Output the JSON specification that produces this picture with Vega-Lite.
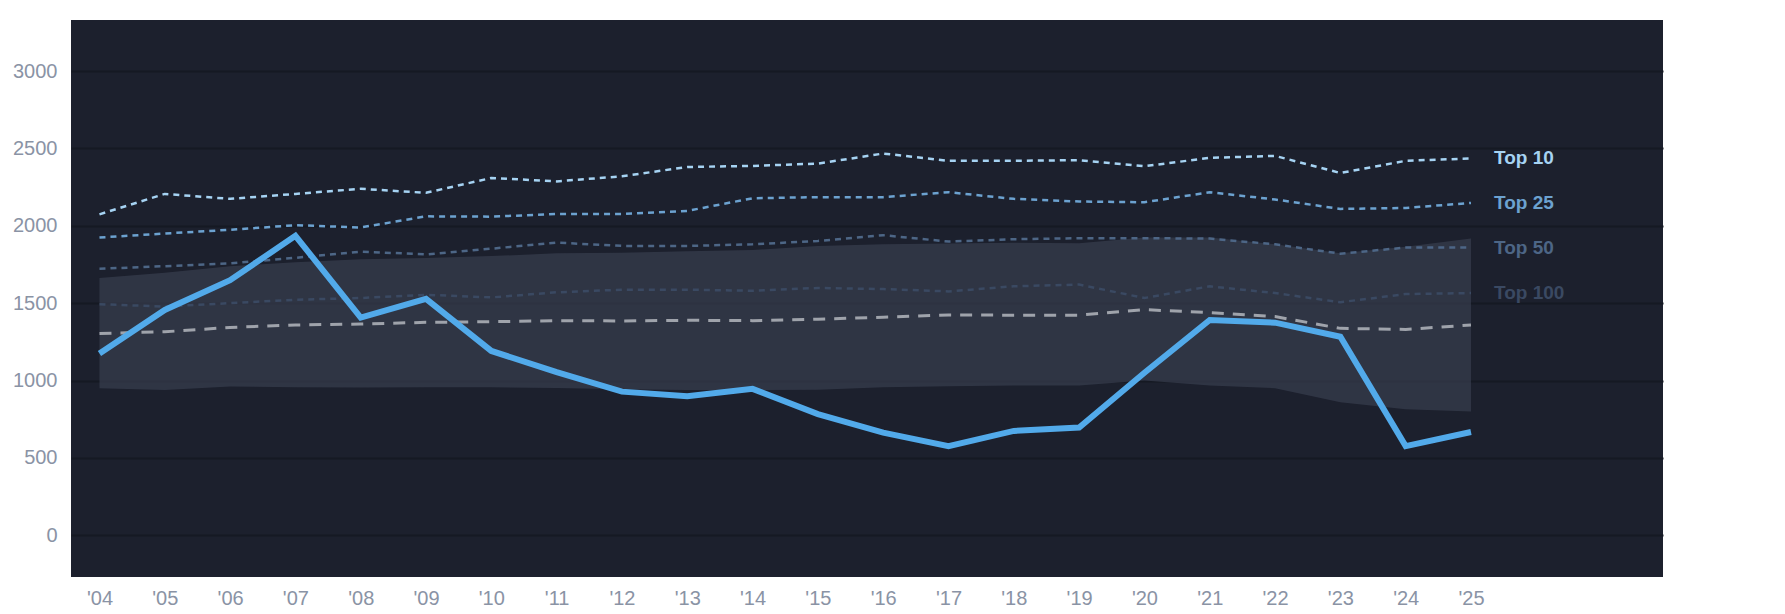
{
  "$schema": "https://vega.github.io/schema/vega-lite/v6.json",
  "autosize": {"type": "none"},
  "padding": {"left": 71, "top": 20, "right": 122, "bottom": 37},
  "width": 1592,
  "height": 557,
  "background": "#ffffff",
  "view": {"fill": "#1c202d", "stroke": null},
  "config": {
    "font": "Liberation Sans",
    "axis": {"labelFont": "Liberation Sans", "labelFontSize": 20, "labelColor": "#8a93a5"}
  },
  "datasets": {
    "tiers": [
      {"year": 2004, "tier": "Top 10", "value": 2074}, {"year": 2005, "tier": "Top 10", "value": 2206},
      {"year": 2006, "tier": "Top 10", "value": 2174}, {"year": 2007, "tier": "Top 10", "value": 2206},
      {"year": 2008, "tier": "Top 10", "value": 2239}, {"year": 2009, "tier": "Top 10", "value": 2213},
      {"year": 2010, "tier": "Top 10", "value": 2309}, {"year": 2011, "tier": "Top 10", "value": 2287},
      {"year": 2012, "tier": "Top 10", "value": 2320}, {"year": 2013, "tier": "Top 10", "value": 2380},
      {"year": 2014, "tier": "Top 10", "value": 2387}, {"year": 2015, "tier": "Top 10", "value": 2402},
      {"year": 2016, "tier": "Top 10", "value": 2467}, {"year": 2017, "tier": "Top 10", "value": 2420},
      {"year": 2018, "tier": "Top 10", "value": 2420}, {"year": 2019, "tier": "Top 10", "value": 2424},
      {"year": 2020, "tier": "Top 10", "value": 2385}, {"year": 2021, "tier": "Top 10", "value": 2439},
      {"year": 2022, "tier": "Top 10", "value": 2452}, {"year": 2023, "tier": "Top 10", "value": 2341},
      {"year": 2024, "tier": "Top 10", "value": 2420}, {"year": 2025, "tier": "Top 10", "value": 2435},
      {"year": 2004, "tier": "Top 25", "value": 1924}, {"year": 2005, "tier": "Top 25", "value": 1950},
      {"year": 2006, "tier": "Top 25", "value": 1974}, {"year": 2007, "tier": "Top 25", "value": 2004},
      {"year": 2008, "tier": "Top 25", "value": 1989}, {"year": 2009, "tier": "Top 25", "value": 2061},
      {"year": 2010, "tier": "Top 25", "value": 2059}, {"year": 2011, "tier": "Top 25", "value": 2076},
      {"year": 2012, "tier": "Top 25", "value": 2076}, {"year": 2013, "tier": "Top 25", "value": 2096},
      {"year": 2014, "tier": "Top 25", "value": 2178}, {"year": 2015, "tier": "Top 25", "value": 2185},
      {"year": 2016, "tier": "Top 25", "value": 2185}, {"year": 2017, "tier": "Top 25", "value": 2217},
      {"year": 2018, "tier": "Top 25", "value": 2174}, {"year": 2019, "tier": "Top 25", "value": 2157},
      {"year": 2020, "tier": "Top 25", "value": 2152}, {"year": 2021, "tier": "Top 25", "value": 2217},
      {"year": 2022, "tier": "Top 25", "value": 2170}, {"year": 2023, "tier": "Top 25", "value": 2109},
      {"year": 2024, "tier": "Top 25", "value": 2115}, {"year": 2025, "tier": "Top 25", "value": 2148},
      {"year": 2004, "tier": "Top 50", "value": 1722}, {"year": 2005, "tier": "Top 50", "value": 1739},
      {"year": 2006, "tier": "Top 50", "value": 1757}, {"year": 2007, "tier": "Top 50", "value": 1793},
      {"year": 2008, "tier": "Top 50", "value": 1833}, {"year": 2009, "tier": "Top 50", "value": 1815},
      {"year": 2010, "tier": "Top 50", "value": 1852}, {"year": 2011, "tier": "Top 50", "value": 1891},
      {"year": 2012, "tier": "Top 50", "value": 1870}, {"year": 2013, "tier": "Top 50", "value": 1870},
      {"year": 2014, "tier": "Top 50", "value": 1880}, {"year": 2015, "tier": "Top 50", "value": 1902},
      {"year": 2016, "tier": "Top 50", "value": 1939}, {"year": 2017, "tier": "Top 50", "value": 1898},
      {"year": 2018, "tier": "Top 50", "value": 1913}, {"year": 2019, "tier": "Top 50", "value": 1920},
      {"year": 2020, "tier": "Top 50", "value": 1920}, {"year": 2021, "tier": "Top 50", "value": 1917},
      {"year": 2022, "tier": "Top 50", "value": 1880}, {"year": 2023, "tier": "Top 50", "value": 1820},
      {"year": 2024, "tier": "Top 50", "value": 1859}, {"year": 2025, "tier": "Top 50", "value": 1859},
      {"year": 2004, "tier": "Top 100", "value": 1493}, {"year": 2005, "tier": "Top 100", "value": 1478},
      {"year": 2006, "tier": "Top 100", "value": 1500}, {"year": 2007, "tier": "Top 100", "value": 1522},
      {"year": 2008, "tier": "Top 100", "value": 1533}, {"year": 2009, "tier": "Top 100", "value": 1554},
      {"year": 2010, "tier": "Top 100", "value": 1537}, {"year": 2011, "tier": "Top 100", "value": 1570},
      {"year": 2012, "tier": "Top 100", "value": 1587}, {"year": 2013, "tier": "Top 100", "value": 1587},
      {"year": 2014, "tier": "Top 100", "value": 1580}, {"year": 2015, "tier": "Top 100", "value": 1598},
      {"year": 2016, "tier": "Top 100", "value": 1591}, {"year": 2017, "tier": "Top 100", "value": 1576},
      {"year": 2018, "tier": "Top 100", "value": 1609}, {"year": 2019, "tier": "Top 100", "value": 1620},
      {"year": 2020, "tier": "Top 100", "value": 1533}, {"year": 2021, "tier": "Top 100", "value": 1609},
      {"year": 2022, "tier": "Top 100", "value": 1565}, {"year": 2023, "tier": "Top 100", "value": 1506},
      {"year": 2024, "tier": "Top 100", "value": 1559}, {"year": 2025, "tier": "Top 100", "value": 1565}
    ],
    "main": [
      {"year": 2004, "value": 1174, "median": 1304, "lo": 950, "hi": 1663},
      {"year": 2005, "value": 1456, "median": 1315, "lo": 939, "hi": 1696},
      {"year": 2006, "value": 1648, "median": 1343, "lo": 961, "hi": 1739},
      {"year": 2007, "value": 1935, "median": 1359, "lo": 956, "hi": 1765},
      {"year": 2008, "value": 1407, "median": 1365, "lo": 954, "hi": 1783},
      {"year": 2009, "value": 1528, "median": 1376, "lo": 956, "hi": 1791},
      {"year": 2010, "value": 1191, "median": 1380, "lo": 956, "hi": 1804},
      {"year": 2011, "value": 1054, "median": 1387, "lo": 952, "hi": 1822},
      {"year": 2012, "value": 928, "median": 1385, "lo": 943, "hi": 1826},
      {"year": 2013, "value": 898, "median": 1389, "lo": 939, "hi": 1835},
      {"year": 2014, "value": 946, "median": 1387, "lo": 939, "hi": 1843},
      {"year": 2015, "value": 783, "median": 1396, "lo": 941, "hi": 1870},
      {"year": 2016, "value": 663, "median": 1409, "lo": 956, "hi": 1880},
      {"year": 2017, "value": 576, "median": 1424, "lo": 963, "hi": 1885},
      {"year": 2018, "value": 674, "median": 1422, "lo": 967, "hi": 1891},
      {"year": 2019, "value": 696, "median": 1422, "lo": 967, "hi": 1887},
      {"year": 2020, "value": 1050, "median": 1458, "lo": 1000, "hi": 1924},
      {"year": 2021, "value": 1391, "median": 1439, "lo": 967, "hi": 1925},
      {"year": 2022, "value": 1374, "median": 1413, "lo": 950, "hi": 1880},
      {"year": 2023, "value": 1283, "median": 1337, "lo": 859, "hi": 1822},
      {"year": 2024, "value": 576, "median": 1330, "lo": 815, "hi": 1865},
      {"year": 2025, "value": 667, "median": 1359, "lo": 800, "hi": 1917}
    ]
  },
  "encoding": {
    "x": {
      "field": "year",
      "type": "quantitative",
      "title": null,
      "scale": {"domain": [2003.564, 2027.94], "nice": false, "zero": false},
      "axis": {
        "values": [2004, 2005, 2006, 2007, 2008, 2009, 2010, 2011, 2012, 2013, 2014, 2015, 2016, 2017, 2018, 2019, 2020, 2021, 2022, 2023, 2024, 2025],
        "format": "d",
        "labelExpr": "\"'\" + slice(datum.label, 2)",
        "labelFontSize": 20,
        "grid": false,
        "ticks": false,
        "domain": false,
        "labelPadding": 11,
        "labelFlush": false,
        "labelOverlap": false
      }
    }
  },
  "layer": [
    {
      "data": {"name": "main"},
      "mark": {"type": "area", "color": "#3b4152", "opacity": 0.65},
      "encoding": {
        "y": {
          "field": "lo",
          "type": "quantitative",
          "title": null,
          "scale": {"domain": [-270, 3330], "nice": false, "zero": false},
          "axis": {
            "values": [0, 500, 1000, 1500, 2000, 2500, 3000],
            "format": "d",
            "labelFontSize": 20,
            "grid": true,
            "gridColor": "#151923",
            "gridWidth": 2,
            "ticks": false,
            "domain": false,
            "labelPadding": 14
          }
        },
        "y2": {"field": "hi"}
      }
    },
    {
      "data": {"name": "tiers"},
      "mark": {"type": "line", "strokeWidth": 2.5, "strokeDash": [6, 5]},
      "encoding": {
        "y": {"field": "value", "type": "quantitative"},
        "color": {
          "field": "tier",
          "type": "nominal",
          "legend": null,
          "scale": {
            "domain": ["Top 10", "Top 25", "Top 50", "Top 100"],
            "range": ["#a6d3f3", "#6ca2d0", "#4d6686", "#3a4962"]
          }
        }
      }
    },
    {
      "data": {"name": "main"},
      "mark": {"type": "line", "color": "#9fa3ab", "strokeWidth": 3, "strokeDash": [12, 9]},
      "encoding": {"y": {"field": "median", "type": "quantitative"}}
    },
    {
      "data": {"name": "main"},
      "mark": {"type": "line", "color": "#52aaea", "strokeWidth": 6, "strokeJoin": "miter"},
      "encoding": {"y": {"field": "value", "type": "quantitative"}}
    },
    {
      "data": {"name": "tiers"},
      "transform": [{"filter": "datum.year == 2025"}],
      "mark": {"type": "text", "align": "left", "baseline": "middle", "dx": 23, "fontSize": 19, "fontWeight": "bold", "font": "Liberation Sans"},
      "encoding": {
        "y": {"field": "value", "type": "quantitative"},
        "text": {"field": "tier"},
        "color": {"field": "tier", "type": "nominal", "legend": null}
      }
    }
  ]
}
